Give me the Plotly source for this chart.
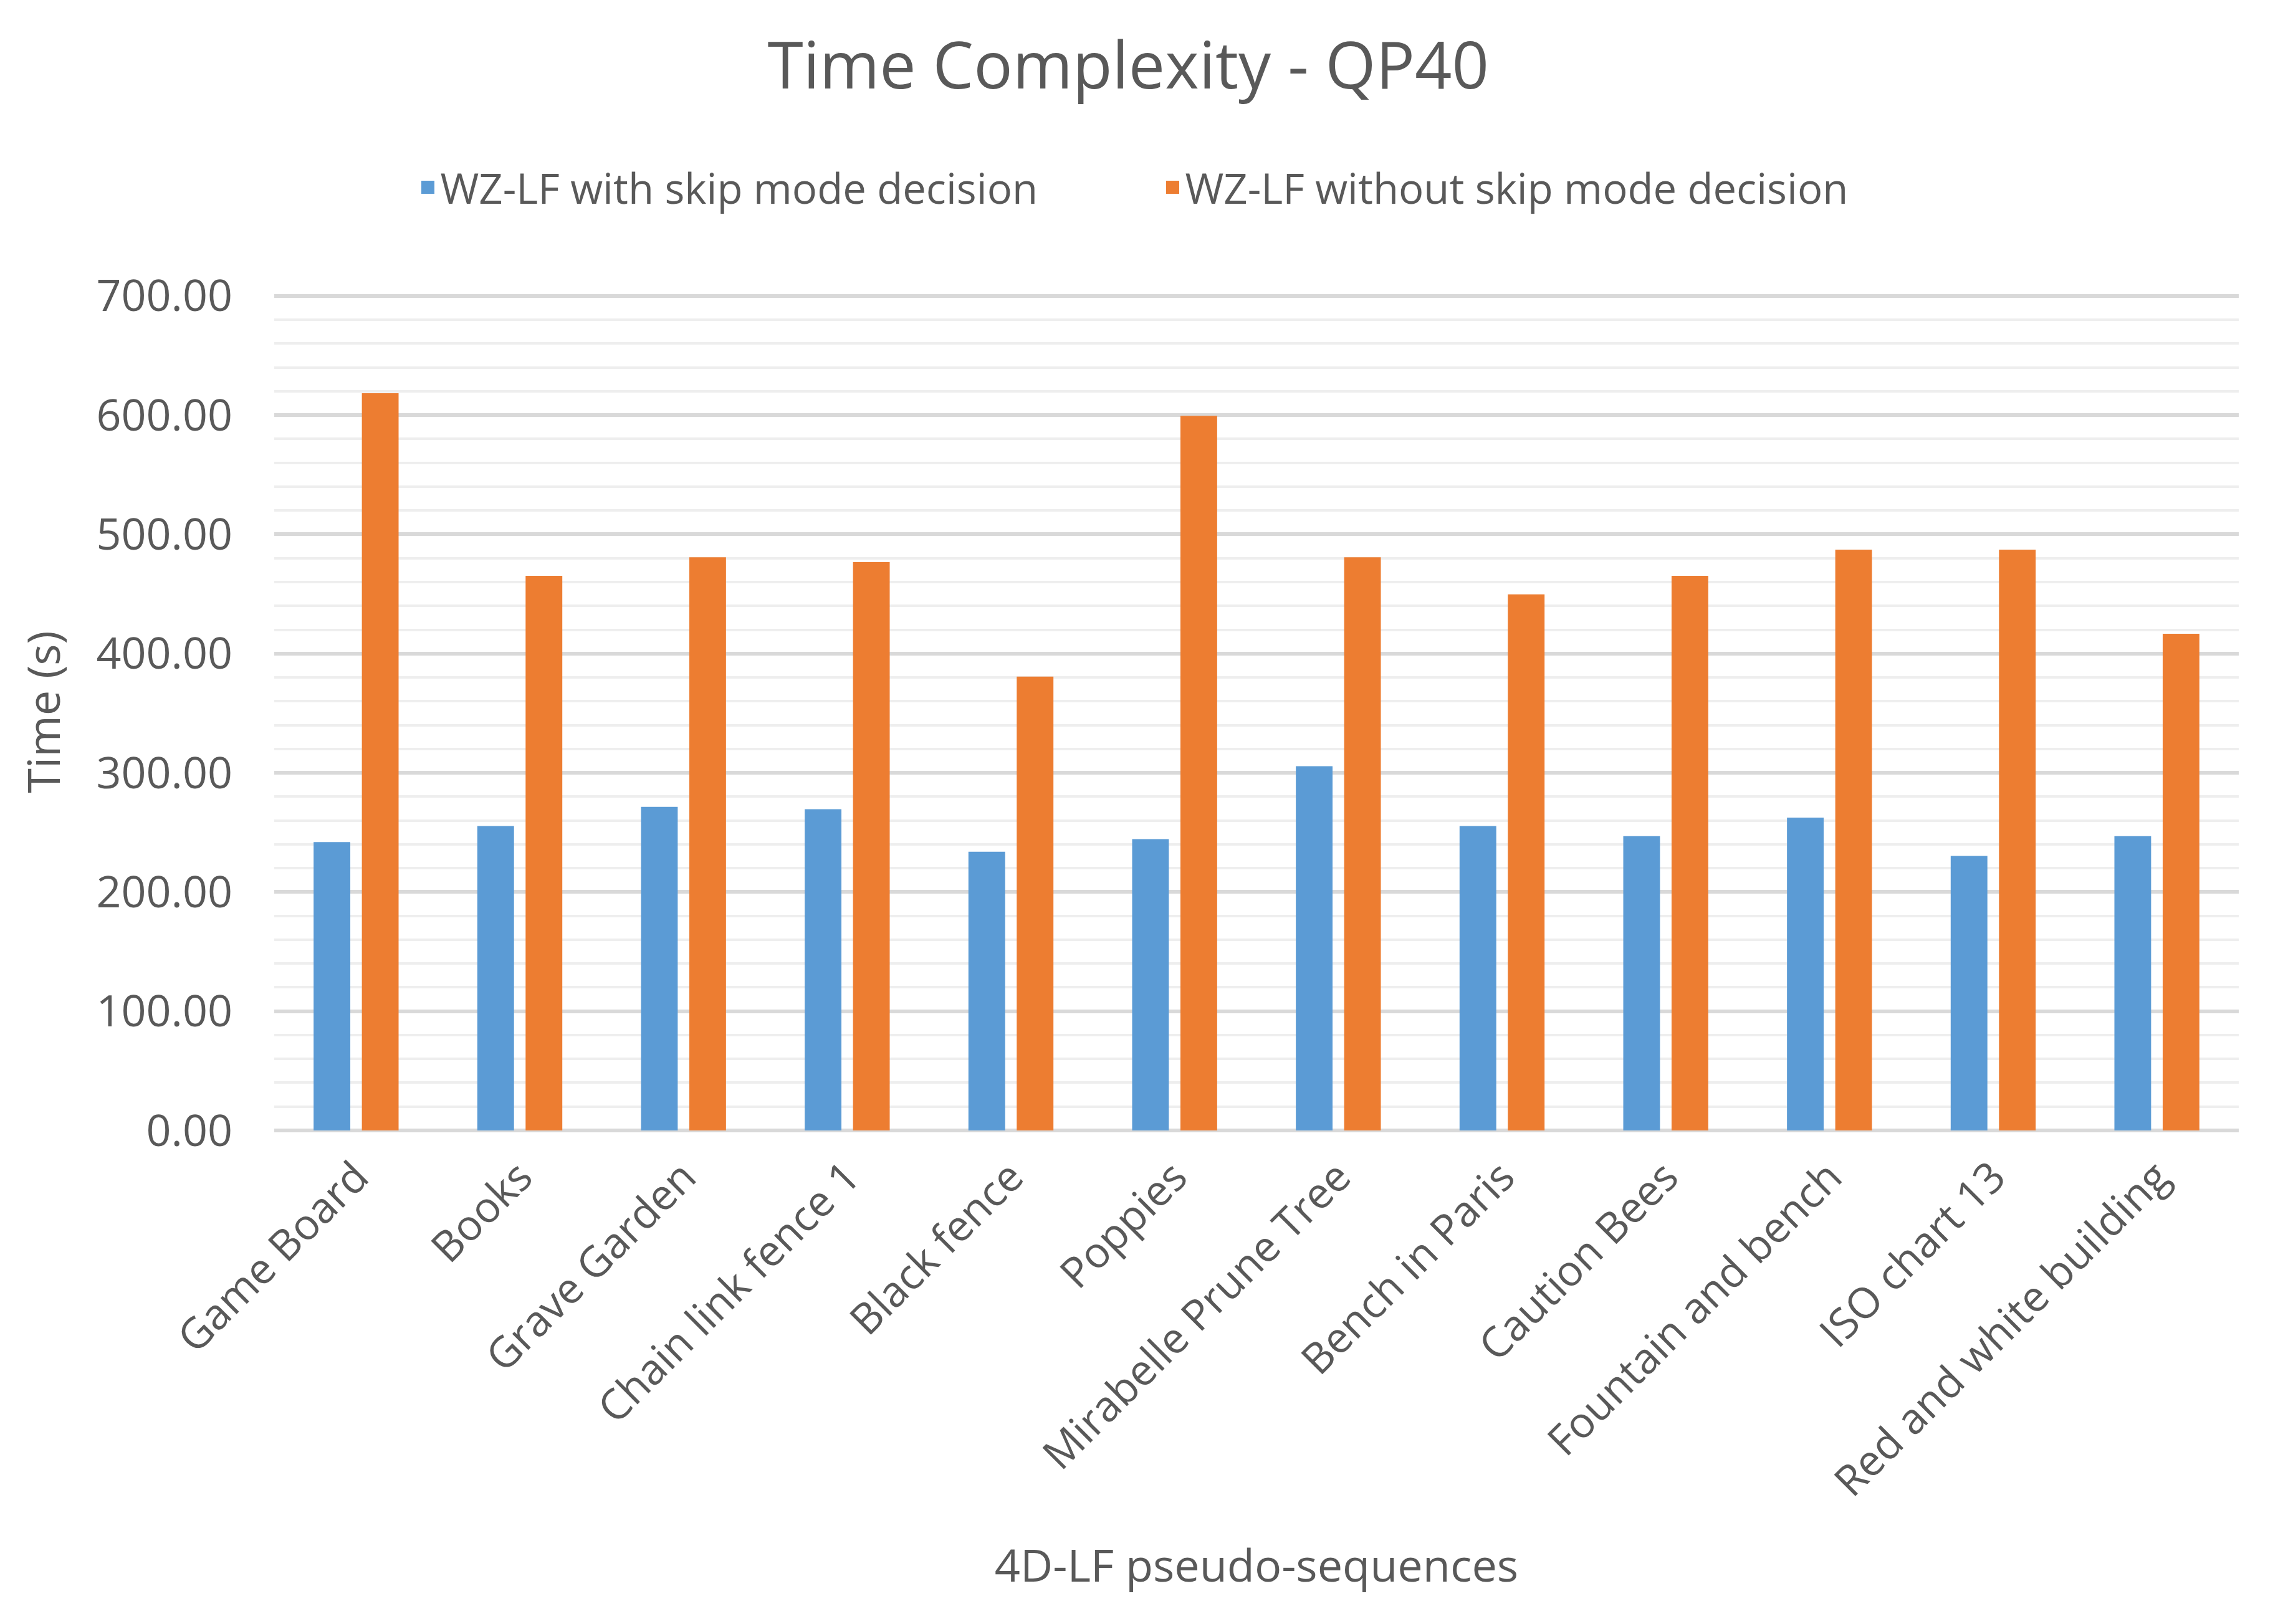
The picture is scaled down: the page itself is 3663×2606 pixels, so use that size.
import plotly.graph_objects as go

categories = ["Game Board", "Books", "Grave Garden", "Chain link fence 1", "Black fence",
              "Poppies", "Mirabelle Prune Tree", "Bench in Paris", "Caution Bees",
              "Fountain and bench", "ISO chart 13", "Red and white building"]
with_skip = [241.9, 255.4, 271.4, 269.4, 233.8, 244.4, 305.5, 255.4, 246.9, 262.4, 230.3, 246.9]
without_skip = [618.4, 465.2, 480.7, 476.7, 380.6, 599.4, 480.7, 449.7, 465.2, 487.2, 487.2, 416.6]
series_names = ["WZ-LF with skip mode decision", "WZ-LF without skip mode decision"]
colors = ["#5B9BD5", "#ED7D31"]
ytick_vals = [0, 100, 200, 300, 400, 500, 600, 700]

FONT = "Open Sans"
GREY = "#595959"

fig = go.Figure()
for name, vals, col in zip(series_names, [with_skip, without_skip], colors):
    fig.add_trace(go.Bar(x=categories, y=vals, name=name, marker_color=col,
                         marker_line_width=0, showlegend=False))
# legend proxies with larger square swatches
for name, col in zip(series_names, colors):
    fig.add_trace(go.Scatter(x=[None], y=[None], mode="markers", name=name,
                             marker=dict(symbol="square", size=40, color=col,
                                         line=dict(width=8, color=col)),
                             showlegend=True))

fig.update_layout(
    width=3663, height=2606,
    paper_bgcolor="white", plot_bgcolor="white",
    margin=dict(l=432, r=79, t=463, b=800),
    barmode="group", bargap=0.41, bargroupgap=0.24,
    font=dict(family=FONT, color=GREY, size=66),
    title=dict(text="Time Complexity - QP40", font=dict(family=FONT, size=104, color=GREY),
               x=0.492, xref="container", xanchor="center",
               y=1 - 98 / 2606, yref="container", yanchor="middle"),
    legend=dict(orientation="h", x=0.506, xref="container", xanchor="center",
                y=1 - 293 / 2606, yref="container", yanchor="middle",
                font=dict(family=FONT, size=67, color=GREY),
                entrywidth=1150, entrywidthmode="pixels",
                itemsizing="trace",
                bgcolor="rgba(0,0,0,0)"),
    showlegend=True,
)

fig.update_xaxes(
    type="category", tickangle=-45, tickfont=dict(family=FONT, size=68, color=GREY),
    showgrid=False, showline=False, zeroline=False, ticks="",
    ticklabelstandoff=20,
    title=dict(text="4D-LF pseudo-sequences", font=dict(family=FONT, size=72, color=GREY), standoff=68),
)
fig.update_yaxes(
    range=[0, 702], tickvals=ytick_vals, tickformat=".2f",
    tickfont=dict(family=FONT, size=70, color=GREY),
    showgrid=True, gridcolor="#d9d9d9", gridwidth=6,
    minor=dict(dtick=20, showgrid=True, gridcolor="#eeeeee", gridwidth=4),
    zeroline=True, zerolinecolor="#d9d9d9", zerolinewidth=6,
    showline=False, ticks="", ticklabelstandoff=66,
    title=dict(text="Time (s)", font=dict(family=FONT, size=72, color=GREY), standoff=34),
)

fig.write_html("out.html")
